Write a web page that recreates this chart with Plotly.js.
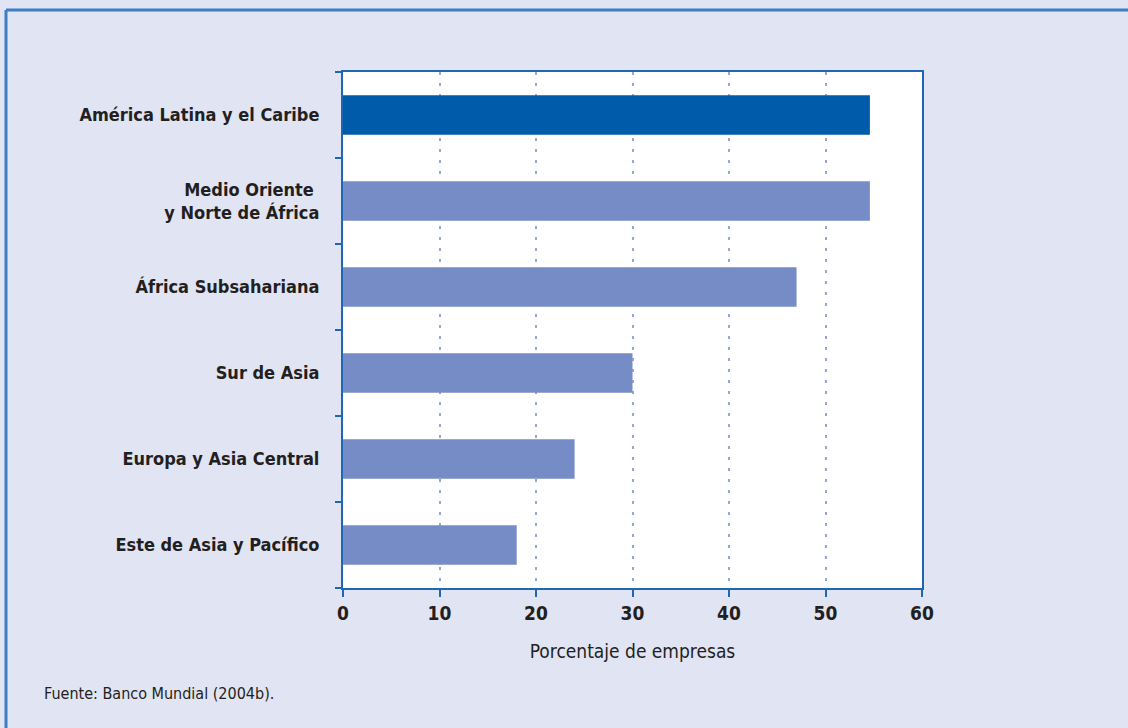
<!DOCTYPE html>
<html><head><meta charset="utf-8">
<script src="https://cdn.plot.ly/plotly-3.0.1.min.js"></script>
<style>body{margin:0;padding:0;background:#E1E4F3}#chart{width:1128px;height:728px}</style>
</head><body><div id="chart"></div>
<script>
const categories = ["América Latina y el Caribe","Medio Oriente <br>y Norte de África","África Subsahariana","Sur de Asia","Europa y Asia Central","Este de Asia y Pacífico"];
const values = [54.6, 54.6, 47, 30, 24, 18];
const barColors = ["#005BAA","#768CC6","#768CC6","#768CC6","#768CC6","#768CC6"];
const xTicks = [0,10,20,30,40,50,60];

const W=1128,H=728,L=343,R=922,T=72,B=588;
const px = x => (x-L)/(R-L);
const py = y => (B-y)/(B-T);
const fontB = "'Liberation Sans Narrow','DejaVu Sans Condensed',Arial,sans-serif";

const trace = {
  type:"bar", orientation:"h",
  y: categories.slice().reverse(), x: values.slice().reverse(),
  marker:{color: barColors.slice().reverse()},
  width:0.46, hoverinfo:"none"
};
const layout = {
  width:W, height:H,
  margin:{l:L, r:W-R, t:T, b:H-B, pad:0},
  paper_bgcolor:"#E1E4F3", plot_bgcolor:"#FFFFFF",
  showlegend:false,
  xaxis:{range:[0,60], tickvals:xTicks, ticktext:xTicks.map(String),
    showgrid:true, gridcolor:"#96A6DA", gridwidth:2, griddash:"3px,8px",
    zeroline:false, showline:true, linecolor:"#1F66B5", linewidth:2, mirror:true,
    ticks:"outside", ticklen:7, tickwidth:2, tickcolor:"#1F66B5",
    tickfont:{family:fontB, size:19, color:"#231F20", weight:"bold"},
    title:{text:"Porcentaje de empresas", font:{family:fontB, size:19, color:"#231F20"}, standoff:22},
    fixedrange:true},
  yaxis:{type:"category", tickson:"boundaries", showgrid:false, zeroline:false,
    showline:true, linecolor:"#1F66B5", linewidth:2, mirror:true,
    ticks:"outside", ticklen:6, tickwidth:2, tickcolor:"#1F66B5",
    ticklabelstandoff:18,
    tickfont:{family:fontB, size:18, color:"#231F20", weight:"bold"},
    fixedrange:true},
  shapes:[
    {type:"line", xref:"paper", yref:"paper", x0:px(6), x1:px(1130), y0:py(10), y1:py(10), line:{color:"#3C7DC4", width:3}},
    {type:"line", xref:"paper", yref:"paper", x0:px(6), x1:px(6), y0:py(10), y1:py(730), line:{color:"#3C7DC4", width:3}}
  ],
  annotations:[
    {xref:"paper", yref:"paper", x:px(42), y:py(693), xanchor:"left", yanchor:"middle", showarrow:false,
     text:"Fuente: Banco Mundial (2004b).", font:{family:fontB, size:16, color:"#231F20"}}
  ]
};
Plotly.newPlot("chart",[trace],layout,{staticPlot:true});
</script></body></html>
